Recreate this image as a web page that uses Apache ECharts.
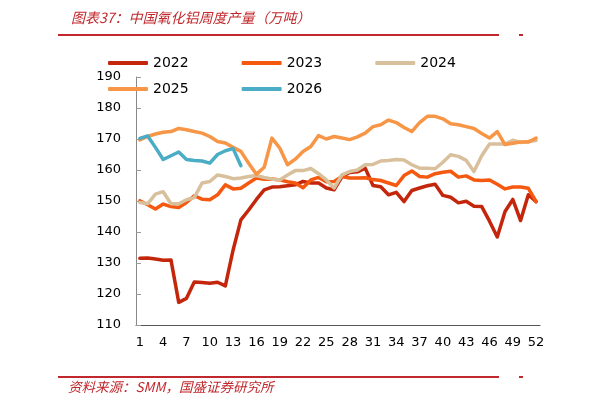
<!DOCTYPE html>
<html>
<head>
<meta charset="UTF-8">
<title>中国氧化铝周度产量</title>
<script src="https://cdn.jsdelivr.net/npm/echarts@6/dist/echarts.min.js"></script>
</head>
<body style="margin:0;">
    <div id="main" style="width: 611px; height: 409px;"></div>
    <script type="text/javascript">
        // 周数 1~52
        var weeks = [];
        for (var i = 1; i <= 52; i++) weeks.push(String(i));

        var y2022 = [131.5, 131.6, 131.3, 130.9, 131.0, 117.3, 118.6, 123.9, 123.7, 123.5,
            123.8, 122.6, 134.2, 143.9, 147.1, 150.5, 153.6, 154.5, 154.6, 154.9,
            155.2, 156.3, 155.8, 155.8, 154.2, 153.6, 157.8, 159.2, 159.4, 160.6,
            155.0, 154.6, 152.0, 152.8, 149.8, 153.4, 154.2, 154.9, 155.4, 151.8,
            151.2, 149.4, 149.9, 148.3, 148.2, 143.5, 138.4, 146.6, 150.5, 143.7,
            152.0, 149.8];
        var y2023 = [150.1, 148.8, 147.4, 149.0, 148.2, 147.9, 149.5, 151.7, 150.6, 150.4,
            152.0, 155.2, 153.9, 154.1, 155.8, 157.4, 157.0, 157.1, 156.8, 156.2,
            155.8, 154.3, 156.8, 157.6, 156.2, 156.3, 157.9, 157.4, 157.4, 157.5,
            156.9, 156.6, 155.8, 155.0, 158.2, 159.7, 157.9, 157.7, 158.8, 159.3,
            159.6, 157.7, 158.1, 156.8, 156.6, 156.8, 155.4, 153.9, 154.5, 154.5,
            154.1, 149.8];
        var y2024 = [149.5, 149.1, 152.2, 153.0, 149.1, 149.1, 150.4, 151.1, 155.8, 156.3,
            158.4, 157.9, 157.2, 157.4, 157.9, 158.2, 157.6, 157.1, 156.8, 158.4,
            159.8, 159.8, 160.5, 158.8, 156.8, 154.2, 158.4, 159.5, 160.0, 161.7,
            161.8, 162.9, 163.1, 163.4, 163.2, 161.7, 160.6, 160.6, 160.4, 162.5,
            164.9, 164.4, 163.1, 159.5, 164.6, 168.4, 168.4, 168.4, 169.6, 168.9,
            169.2, 169.5];
        var y2025 = [169.7, 170.8, 171.6, 172.2, 172.4, 173.4, 173.0, 172.4, 171.9, 170.8,
            169.2, 168.7, 167.3, 166.0, 162.2, 158.6, 160.9, 170.3, 167.1, 161.7,
            163.5, 166.0, 167.6, 171.1, 170.0, 170.8, 170.3, 169.8, 170.7, 171.9,
            174.0, 174.6, 176.1, 175.3, 173.7, 172.4, 175.3, 177.3, 177.3, 176.5,
            174.9, 174.6, 174.0, 173.4, 171.8, 170.3, 172.4, 168.2, 168.6, 169.0,
            169.0, 170.3];
        var y2026 = [170.2, 171.0, 167.3, 163.4, 164.6, 165.8, 163.4, 163.1, 162.9, 162.2,
            165.0, 166.2, 166.9, 161.4];

        var names = ['2022', '2023', '2024', '2025', '2026'];
        var values = [y2022, y2023, y2024, y2025, y2026];
        var colors = ['#C4260C', '#F5580F', '#D9C09C', '#F79646', '#4BACC6'];
        var red = '#C0282D';

        var myChart = echarts.init(document.getElementById('main'));

        var series = [];
        for (var k = 0; k < names.length; k++) {
            series.push({
                name: names[k],
                type: 'line',
                data: values[k],
                symbol: 'none',
                smooth: false,
                lineStyle: { width: 3.5, color: colors[k], cap: 'round', join: 'round' },
                itemStyle: { color: colors[k] }
            });
        }

        var legendText = { fontFamily: 'DejaVu Sans', fontSize: 14, color: '#000' };

        var option = {
            animation: false,
            title: {
                text: '图表37：中国氧化铝周度产量（万吨）',
                left: 66,
                top: 6,
                textStyle: {
                    fontFamily: 'Noto Sans CJK SC',
                    fontSize: 14,
                    fontStyle: 'italic',
                    fontWeight: 'normal',
                    color: red
                }
            },
            // 图例分两行
            legend: [
                {
                    data: ['2022', '2023', '2024'],
                    left: 103,
                    top: 51,
                    icon: 'roundRect',
                    itemWidth: 40,
                    itemHeight: 4,
                    itemGap: 53,
                    textStyle: legendText
                },
                {
                    data: ['2025', '2026'],
                    left: 103,
                    top: 77,
                    icon: 'roundRect',
                    itemWidth: 40,
                    itemHeight: 4,
                    itemGap: 53,
                    textStyle: legendText
                }
            ],
            grid: {
                left: 136,
                right: 71,
                top: 77,
                bottom: 84,
                containLabel: false
            },
            xAxis: {
                type: 'category',
                data: weeks,
                boundaryGap: true,
                axisLine: { lineStyle: { color: '#555', width: 1 } },
                axisTick: { inside: true, length: 4, interval: 2, lineStyle: { color: '#999' } },
                axisLabel: {
                    interval: 2,
                    margin: 11,
                    fontFamily: 'DejaVu Sans',
                    fontSize: 13,
                    color: '#000'
                },
                splitLine: { show: false }
            },
            yAxis: {
                type: 'value',
                min: 110,
                max: 190,
                interval: 10,
                axisLine: { show: true, lineStyle: { color: '#888', width: 1 } },
                axisTick: { show: true, inside: true, length: 5, lineStyle: { color: '#999' } },
                axisLabel: {
                    margin: 15,
                    fontFamily: 'DejaVu Sans',
                    fontSize: 13,
                    color: '#000'
                },
                splitLine: { show: false }
            },
            graphic: [
                { type: 'line', shape: { x1: 58, y1: 35, x2: 499, y2: 35 }, style: { stroke: red, lineWidth: 2 } },
                { type: 'line', shape: { x1: 519, y1: 35, x2: 523, y2: 35 }, style: { stroke: red, lineWidth: 2 } },
                { type: 'line', shape: { x1: 58, y1: 377, x2: 499, y2: 377 }, style: { stroke: red, lineWidth: 2 } },
                { type: 'line', shape: { x1: 519, y1: 377, x2: 523, y2: 377 }, style: { stroke: red, lineWidth: 2 } },
                {
                    type: 'text',
                    left: 68,
                    top: 380,
                    style: {
                        text: '资料来源：SMM，国盛证券研究所',
                        fontFamily: 'Noto Sans CJK SC',
                        fontSize: 13.5,
                        fontStyle: 'italic',
                        fill: red
                    }
                }
            ],
            series: series
        };

        myChart.setOption(option);
    </script>
</body>
</html>
